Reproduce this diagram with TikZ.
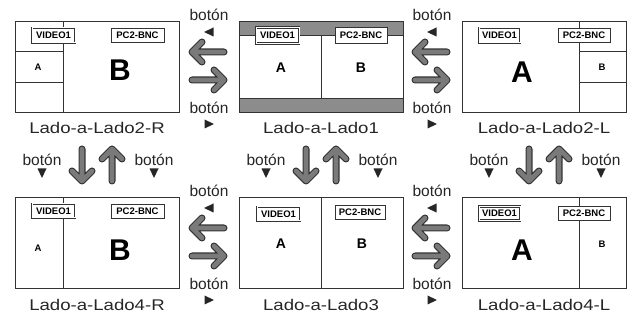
\documentclass[tikz,border=0pt]{standalone}
\usepackage{fontspec}
\setmainfont{Liberation Sans}
\newfontfamily\capfont{Liberation Sans}[FakeStretch=1.2]
\usetikzlibrary{positioning}
\tikzset{
  panel/.style    = {draw=black!80, line width=0.8pt, fill=white, inner sep=0pt,
                     minimum width=164pt, minimum height=91pt},
  divline/.style  = {draw=black!80, line width=0.7pt},
  band/.style     = {fill=black!45, draw=black!80, line width=0.8pt},
  srcbox/.style   = {draw=black!80, fill=white, line width=0.6pt, inner sep=0pt,
                     minimum height=14pt, font=\bfseries\fontsize{9.5}{10}\selectfont},
  mainsrc/.style  = {srcbox, line width=2.4pt,
                     postaction={draw=white, line width=1pt}},
  biglbl/.style   = {font=\bfseries\fontsize{30}{30}\selectfont, inner sep=0pt},
  midlbl/.style   = {font=\bfseries\fontsize{14}{14}\selectfont, inner sep=0pt},
  smalllbl/.style = {font=\bfseries\fontsize{9.5}{10}\selectfont, inner sep=0pt},
  caption/.style  = {font=\capfont\fontsize{15.5}{16}\selectfont, text=black!85, inner sep=0pt},
  btn/.style      = {font=\fontsize{15.5}{16}\selectfont, text=black!85, inner sep=0pt},
  fatarrow/.pic   = {
    \draw[line width=7pt, draw=black!80, line cap=round, line join=round]
      (-16,0) -- (16,0) (6,-10) -- (16,0) -- (6,10);
    \draw[line width=4.6pt, draw=black!52, line cap=round, line join=round]
      (-16,0) -- (16,0) (6,-10) -- (16,0) -- (6,10);
  },
  tip/.pic        = {\fill[black!85] (-4.5,-4.5) -- (5,0) -- (-4.5,4.5) -- cycle;},
}

\begin{document}
\begin{tikzpicture}[x=1pt,y=-1pt]
\useasboundingbox (0,0) rectangle (637,320);

% Lado-a-Lado2-R
\node[panel] (p1) at (97,66.5) {};
\draw[divline] (63,21) -- (63,112) (15,51) -- (63,51) (15,82) -- (63,82);
\node[mainsrc, minimum width=43pt, minimum height=15pt] (v1) at (53.5,35.5) {VIDEO1};
\node[srcbox, minimum width=53pt] (b1) at (137.5,35.5) {PC2-BNC};
\node[smalllbl] (a1) at (38,67) {A};
\node[biglbl] (w1) at (120,70) {B};
\node[caption] (c1) at (97,128) {Lado-a-Lado2-R};

% Lado-a-Lado1
\node[panel] (p2) at (321,66.5) {};
\draw[band] (239,21) rectangle (403,35);
\draw[band] (239,98) rectangle (403,112);
\draw[divline] (321,35) -- (321,98);
\node[mainsrc, minimum width=43pt, minimum height=16pt] (v2) at (277.5,35.5) {VIDEO1};
\node[srcbox, minimum width=52pt, minimum height=16pt] (b2) at (361,35.5) {PC2-BNC};
\node[midlbl] (a2) at (281,68) {A};
\node[midlbl] (w2) at (361,68) {B};
\node[caption] (c2) at (321,128) {Lado-a-Lado1};

% Lado-a-Lado2-L
\node[panel] (p3) at (544,66.5) {};
\draw[divline] (579,21) -- (579,112) (579,51) -- (626,51) (579,82) -- (626,82);
\node[mainsrc, minimum width=41pt, minimum height=15pt] (v3) at (499.5,35.5) {VIDEO1};
\node[srcbox, minimum width=52pt] (b3) at (584,35.5) {PC2-BNC};
\node[biglbl] (a3) at (522,72) {A};
\node[smalllbl] (w3) at (602,67) {B};
\node[caption] (c3) at (544,128) {Lado-a-Lado2-L};

% Lado-a-Lado4-R
\node[panel] (p4) at (97,242.5) {};
\draw[divline] (63,197) -- (63,288);
\node[mainsrc, minimum width=43pt] (v4) at (53.5,211) {VIDEO1};
\node[srcbox, minimum width=53pt] (b4) at (137.5,211.5) {PC2-BNC};
\node[smalllbl] (a4) at (38,248) {A};
\node[biglbl] (w4) at (120,250) {B};
\node[caption] (c4) at (97,305) {Lado-a-Lado4-R};

% Lado-a-Lado3
\node[panel] (p5) at (321,242.5) {};
\draw[divline] (321,197) -- (321,288);
\node[mainsrc, minimum width=43pt] (v5) at (278.5,214) {VIDEO1};
\node[srcbox, minimum width=50pt] (b5) at (360,212.5) {PC2-BNC};
\node[midlbl] (a5) at (281,244) {A};
\node[midlbl] (w5) at (362,244) {B};
\node[caption] (c5) at (321,305) {Lado-a-Lado3};

% Lado-a-Lado4-L
\node[panel] (p6) at (544,242.5) {};
\draw[divline] (579,197) -- (579,288);
\node[mainsrc, minimum width=41pt] (v6) at (499.5,213.5) {VIDEO1};
\node[srcbox, minimum width=52pt] (b6) at (584,213) {PC2-BNC};
\node[biglbl] (a6) at (522,250) {A};
\node[smalllbl] (w6) at (602,244) {B};
\node[caption] (c6) at (544,305) {Lado-a-Lado4-L};

% left/right buttons
\foreach \x/\n in {209/1,432/2} {
  \foreach \y/\r in {0/t,176/u} {
    \node[btn] (bu\n\r) at (\x,15+\y) {botón};
    \pic (tl\n\r) at (\x,32+\y) [rotate=180] {tip};
    \pic (al\n\r) at (\x-1,52+\y) [rotate=180] {fatarrow};
    \pic (ar\n\r) at (\x-1,80+\y) {fatarrow};
    \node[btn] (bd\n\r) at (\x,108+\y) {botón};
    \pic (tr\n\r) at (\x,124+\y) {tip};
  }
}

% up/down buttons
\foreach \c/\n in {97/1,321/2,544/3} {
  \node[btn] (bl\n) at (\c-55,160) {botón};
  \pic (dl\n) at (\c-55,173) [rotate=-90] {tip};
  \pic (ad\n) at (\c-15,165) [rotate=-90] {fatarrow};
  \pic (au\n) at (\c+15,165) [rotate=90] {fatarrow};
  \node[btn] (br\n) at (\c+57,160) {botón};
  \pic (dr\n) at (\c+57,173) [rotate=-90] {tip};
}
\end{tikzpicture}
\end{document}
